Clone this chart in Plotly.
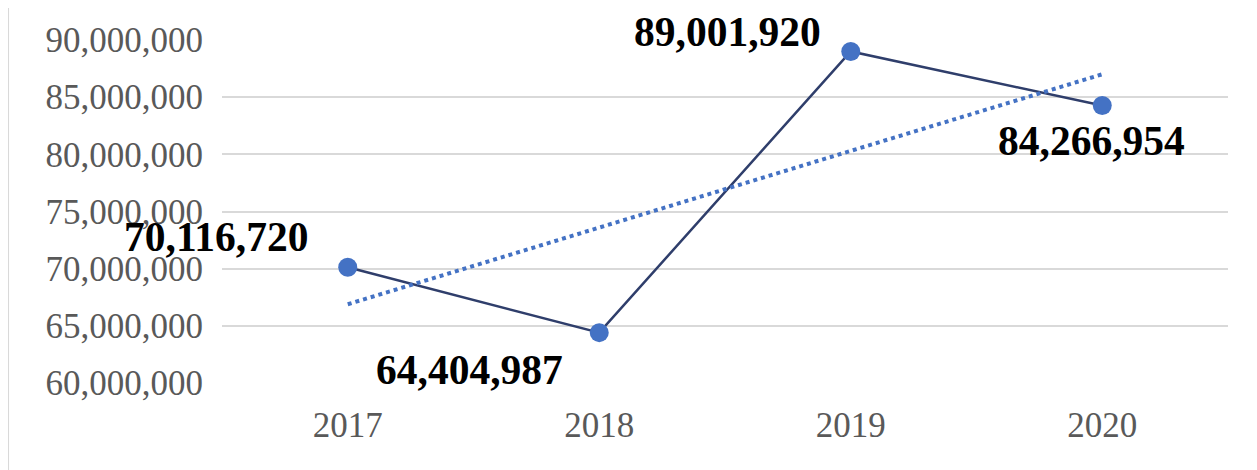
import numpy as np
import plotly.graph_objects as go

years = ["2017", "2018", "2019", "2020"]
values = [70116720, 64404987, 89001920, 84266954]
label_texts = ["70,116,720", "64,404,987", "89,001,920", "84,266,954"]
y_ticks = [60000000, 65000000, 70000000, 75000000, 80000000, 85000000, 90000000]

# linear trendline fitted to the series (like the original's trendline)
xi = np.arange(len(values))
slope, intercept = np.polyfit(xi, values, 1)
trend = slope * xi + intercept

FONT = "Liberation Serif, Times New Roman, serif"

fig = go.Figure()
fig.add_trace(go.Scatter(
    x=years, y=values, mode="lines+markers",
    line=dict(color="#2F3E6B", width=2.5),
    marker=dict(color="#4472C4", size=19),
    showlegend=False, hoverinfo="skip"))
fig.add_trace(go.Scatter(
    x=[years[0], years[-1]], y=[float(trend[0]), float(trend[-1])], mode="lines",
    line=dict(color="#4472C4", width=4, dash="dot"),
    showlegend=False, hoverinfo="skip"))

shifts = [(-132, 30), (-130, -37), (-123, 19), (-11, -35)]
for i, (v, t, (dx, dy)) in enumerate(zip(values, label_texts, shifts)):
    fig.add_annotation(x=i, y=v, xref="x", yref="y", text="<b>" + t + "</b>",
                       showarrow=False, xshift=dx, yshift=dy,
                       font=dict(family=FONT, size=41.5, color="#000000"))

fig.add_shape(type="rect", xref="paper", yref="paper",
              x0=-0.2127, x1=1.05, y0=-0.4, y1=1.2,
              line=dict(color="#D9D9D9", width=2), layer="below")

fig.update_layout(
    width=1249, height=462,
    margin=dict(l=214, r=29, t=32, b=87, autoexpand=False),
    paper_bgcolor="white", plot_bgcolor="white",
    font=dict(family=FONT),
)
fig.update_xaxes(type="category", range=[-0.5, 3.5], showgrid=False,
                 showline=False, zeroline=False, ticks="", automargin=False,
                 tickfont=dict(family=FONT, size=35, color="#595959"),
                 ticklabelstandoff=18)
fig.update_yaxes(range=[60000000, 90000000], tickvals=y_ticks,
                 tickformat=",d", showgrid=True, gridcolor="#D9D9D9",
                 gridwidth=2, zeroline=False, showline=False, ticks="",
                 automargin=False,
                 tickfont=dict(family=FONT, size=35, color="#595959"),
                 ticklabelstandoff=18)

fig.write_html("out.html")
